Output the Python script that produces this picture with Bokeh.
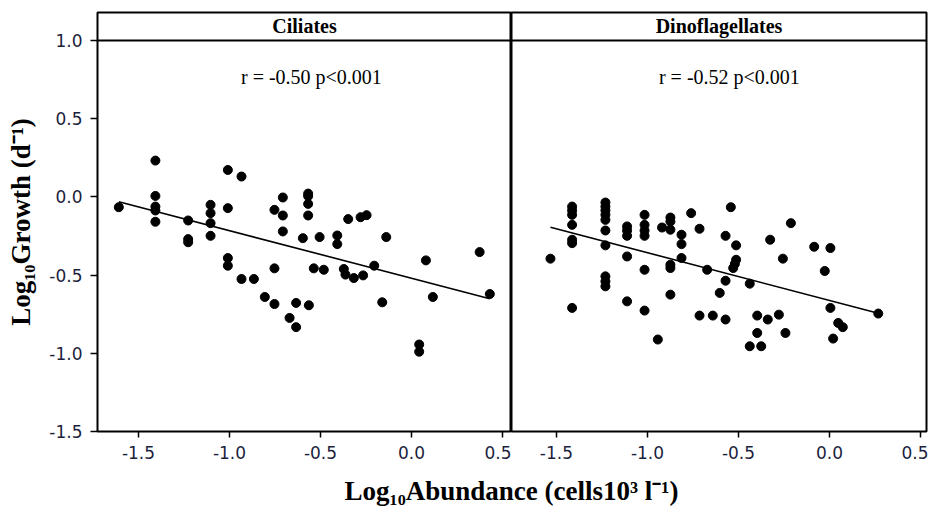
import numpy as np
from bokeh.plotting import figure
from bokeh.layouts import column, row
from bokeh.models import Span, Label, FixedTicker, Range1d
from bokeh.embed import file_html
from bokeh.resources import INLINE

# ---------------- data ----------------
panel_titles = ["Ciliates", "Dinoflagellates"]
stats_labels = ["r = -0.50 p<0.001", "r = -0.52 p<0.001"]

cil_x = [-1.608, -1.407, -1.407, -1.407, -1.407, -1.407, -1.227, -1.227, -1.227,
         -1.104, -1.104, -1.104, -1.104, -1.009, -1.009, -1.009, -1.009, -0.934,
         -0.934, -0.866, -0.806, -0.753, -0.753, -0.753, -0.707, -0.707, -0.707,
         -0.670, -0.634, -0.634, -0.568, -0.568, -0.568, -0.568, -0.597, -0.505,
         -0.408, -0.408, -0.348, -0.280, -0.247, -0.139, -0.537, -0.482, -0.372,
         -0.363, -0.317, -0.266, -0.205, 0.079, 0.374, 0.430, 0.117, -0.161,
         -0.564, 0.042, 0.042]
cil_y = [-0.066, 0.232, 0.006, -0.062, -0.087, -0.159, -0.151, -0.270, -0.290,
         -0.051, -0.104, -0.168, -0.249, 0.172, -0.072, -0.391, -0.440, 0.130,
         -0.525, -0.525, -0.640, -0.083, -0.457, -0.685, -0.004, -0.119, -0.221,
         -0.774, -0.678, -0.833, 0.021, 0.005, -0.045, -0.119, -0.264, -0.257,
         -0.247, -0.302, -0.142, -0.130, -0.117, -0.257, -0.457, -0.466, -0.461,
         -0.497, -0.519, -0.502, -0.440, -0.406, -0.353, -0.621, -0.640, -0.674,
         -0.693, -0.944, -0.990]

dino_x = [-1.533,
          -1.414, -1.414, -1.414, -1.414, -1.414, -1.414, -1.414,
          -1.231, -1.231, -1.231, -1.231, -1.231, -1.231, -1.231, -1.231, -1.231, -1.231,
          -1.112, -1.112, -1.112, -1.112, -1.112,
          -1.016, -1.016, -1.016, -1.016, -1.016, -1.016,
          -0.943, -0.920,
          -0.874, -0.874, -0.874, -0.874, -0.874, -0.874,
          -0.813, -0.813, -0.813,
          -0.760, -0.714, -0.714, -0.672, -0.641, -0.603,
          -0.542, -0.571, -0.571, -0.571, -0.513, -0.513, -0.520, -0.529,
          -0.438, -0.438, -0.326, -0.212, -0.256, -0.084, 0.005, 0.005, -0.026,
          -0.397, -0.397, -0.339, -0.278, -0.242, -0.375, 0.048, 0.073, 0.020, 0.268]
dino_y = [-0.395,
          -0.062, -0.087, -0.115, -0.179, -0.274, -0.296, -0.710,
          -0.036, -0.062, -0.087, -0.115, -0.147, -0.215, -0.310, -0.508, -0.540, -0.572,
          -0.189, -0.215, -0.249, -0.381, -0.668,
          -0.115, -0.179, -0.215, -0.249, -0.466, -0.727,
          -0.912, -0.196,
          -0.132, -0.158, -0.210, -0.434, -0.455, -0.625,
          -0.242, -0.302, -0.391,
          -0.104, -0.204, -0.759, -0.466, -0.759, -0.614,
          -0.066, -0.249, -0.536, -0.784, -0.310, -0.402, -0.429, -0.455,
          -0.555, -0.955, -0.274, -0.168, -0.395, -0.319, -0.327, -0.710, -0.474,
          -0.759, -0.870, -0.784, -0.753, -0.870, -0.955, -0.806, -0.833, -0.906, -0.746]

x_ticks = [-1.5, -1.0, -0.5, 0.0, 0.5]
x_tick_labels = ["-1.5", "-1.0", "-0.5", "0.0", "0.5"]
y_ticks = [-1.5, -1.0, -0.5, 0.0, 0.5, 1.0]
y_tick_labels = ["-1.5", "-1.0", "-0.5", "0.0", "0.5", "1.0"]

x_label = "Log\u2081\u2080Abundance (cells10\u00b3 l\u207b\u00b9)"
y_label = "Log\u2081\u2080Growth (d\u207b\u00b9)"

# ---------------- styling ----------------
SERIF = "Liberation Serif"
TICK_FONT = "DejaVu Sans"
TICK_COLOR = "#1c1f3d"
Y_MIN, Y_TOP, Y_HEADER = -1.5, 1.0, 1.1787
STATS_X, STATS_Y = -0.55, 0.765


def make_panel(xs, ys, title, stats, x_start, x_end, show_y, width, mbl, mbr):
    p = figure(width=width, height=470,
               x_range=Range1d(x_start, x_end), y_range=Range1d(Y_MIN, Y_HEADER),
               min_border_left=mbl, min_border_right=mbr,
               min_border_top=12, min_border_bottom=39,
               toolbar_location=None, output_backend="svg",
               y_axis_type="linear" if show_y else None)
    p.background_fill_color = "white"
    p.border_fill_color = "white"
    p.outline_line_color = "black"
    p.outline_line_width = 2
    p.xgrid.grid_line_color = None
    p.ygrid.grid_line_color = None

    ax = p.xaxis[0]
    ax.ticker = FixedTicker(ticks=x_ticks)
    ax.major_label_overrides = dict(zip(x_ticks, x_tick_labels))
    ax.axis_line_color = None
    ax.major_tick_line_color = "black"
    ax.major_tick_line_width = 1.5
    ax.major_tick_out = 6
    ax.major_tick_in = 0
    ax.minor_tick_line_color = None
    ax.major_label_text_font = TICK_FONT
    ax.major_label_text_font_size = "17px"
    ax.major_label_text_color = TICK_COLOR
    ax.major_label_standoff = 8

    if show_y:
        ay = p.yaxis[0]
        ay.ticker = FixedTicker(ticks=y_ticks)
        ay.major_label_overrides = dict(zip(y_ticks, y_tick_labels))
        ay.axis_line_color = None
        ay.major_tick_line_color = "black"
        ay.major_tick_line_width = 1.5
        ay.major_tick_out = 7
        ay.major_tick_in = 0
        ay.minor_tick_line_color = None
        ay.major_label_text_font = TICK_FONT
        ay.major_label_text_font_size = "17px"
        ay.major_label_text_color = TICK_COLOR
        ay.major_label_standoff = 8
        ay.axis_label = y_label
        ay.axis_label_text_font = SERIF
        ay.axis_label_text_font_style = "bold"
        ay.axis_label_text_font_size = "27px"
        ay.axis_label_text_color = "black"
        ay.axis_label_standoff = 10

    # header strip
    p.add_layout(Span(location=Y_TOP, dimension="width", line_color="black", line_width=2))
    p.add_layout(Label(x=(x_start + x_end) / 2, y=(Y_TOP + Y_HEADER) / 2, text=title,
                       text_align="center", text_baseline="middle",
                       text_font=SERIF, text_font_style="bold",
                       text_font_size="20px", text_color="black"))
    p.add_layout(Label(x=STATS_X, y=STATS_Y, text=stats,
                       text_align="center", text_baseline="middle",
                       text_font=SERIF, text_font_size="20px", text_color="black"))

    # regression line
    xa = np.asarray(xs)
    ya = np.asarray(ys)
    slope, intercept = np.polyfit(xa, ya, 1)
    lx = np.array([xa.min(), xa.max()])
    p.line(lx, intercept + slope * lx, line_color="black", line_width=1.6)

    p.scatter(xs, ys, marker="circle", size=9, fill_color="black", line_color="black")
    return p


left = make_panel(cil_x, cil_y, panel_titles[0], stats_labels[0],
                  -1.725, 0.549, True, 511, 97, 0)
right = make_panel(dino_x, dino_y, panel_titles[1], stats_labels[1],
                   -1.747, 0.533, False, 417, 0, 2)

lab = figure(width=928, height=41, x_range=Range1d(0, 928), y_range=Range1d(0, 41),
             min_border=0, toolbar_location=None, output_backend="svg",
             x_axis_type=None, y_axis_type=None)
lab.outline_line_color = None
lab.xgrid.grid_line_color = None
lab.ygrid.grid_line_color = None
lab.add_layout(Label(x=511, y=21, text=x_label, text_align="center", text_baseline="middle",
                     text_font=SERIF, text_font_style="bold", text_font_size="27px",
                     text_color="black"))

layout = column(row(left, right), lab)
open("out.html", "w").write(file_html(layout, INLINE))
